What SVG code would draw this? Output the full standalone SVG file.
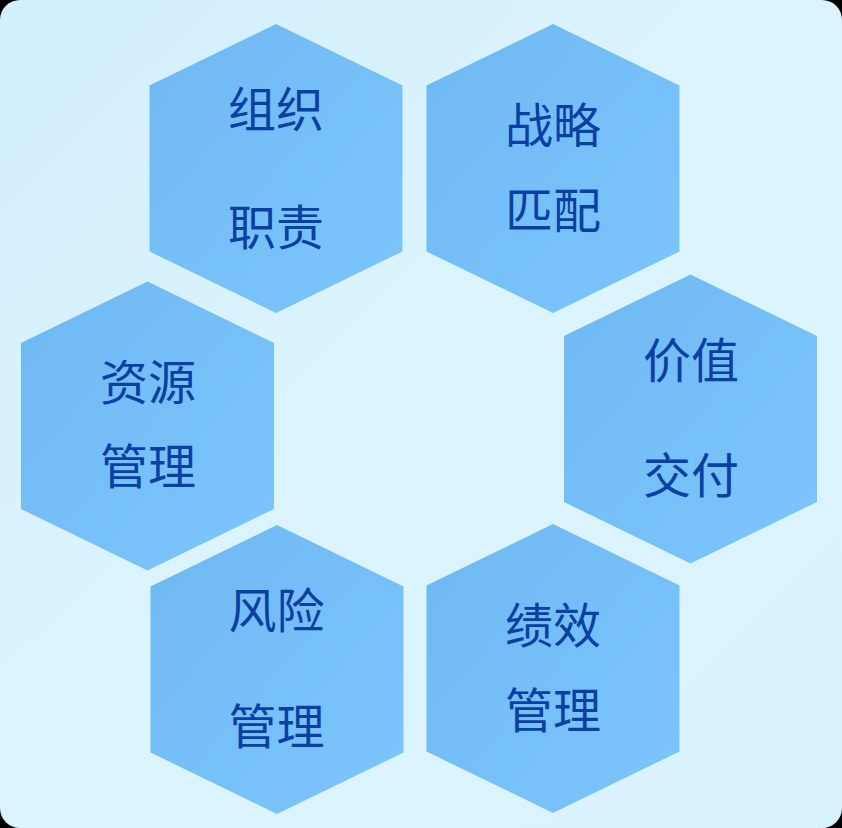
<svg xmlns="http://www.w3.org/2000/svg" xmlns:xlink="http://www.w3.org/1999/xlink" width="842" height="828" viewBox="0 0 842 828">
  <defs>
    <linearGradient id="bg" x1="0" y1="0" x2="1" y2="1">
      <stop offset="0" stop-color="#d3effc"/>
      <stop offset="0.5" stop-color="#dcf4fe"/>
      <stop offset="1" stop-color="#d9f3fe"/>
    </linearGradient>
    <linearGradient id="hexfill" x1="0" y1="0" x2="1" y2="1">
      <stop offset="0" stop-color="#6fb8f3"/>
      <stop offset="1" stop-color="#7cc6fc"/>
    </linearGradient>
    <polygon id="hex" points="0,-144.5 126.5,-83 126.5,83 0,144.5 -126.5,83 -126.5,-83"/>
  </defs>
  <style>
    .hex { fill: url(#hexfill); }
    .lbl { font-family: "Noto Sans CJK SC", "Noto Sans", sans-serif; font-size: 48px; font-weight: 400; fill: #0b40a2; text-anchor: middle; }
  </style>
  <rect x="0" y="0" width="842" height="828" fill="#000"/>
  <rect x="0" y="0" width="842" height="828" rx="20" ry="20" fill="url(#bg)"/>

  <g id="node-zuzhi-zhize">
    <use xlink:href="#hex" href="#hex" class="hex" transform="translate(276,168.5)"/>
    <text class="lbl" x="276" y="127">组织</text>
    <text class="lbl" x="276" y="244.5">职责</text>
  </g>
  <g id="node-zhanlue-pipei">
    <use xlink:href="#hex" href="#hex" class="hex" transform="translate(553,168.5)"/>
    <text class="lbl" x="553" y="143">战略</text>
    <text class="lbl" x="553" y="228">匹配</text>
  </g>
  <g id="node-ziyuan-guanli">
    <use xlink:href="#hex" href="#hex" class="hex" transform="translate(147.5,426)"/>
    <text class="lbl" x="148" y="400">资源</text>
    <text class="lbl" x="148" y="484">管理</text>
  </g>
  <g id="node-jiazhi-jiaofu">
    <use xlink:href="#hex" href="#hex" class="hex" transform="translate(690.5,419)"/>
    <text class="lbl" x="691" y="377.5">价值</text>
    <text class="lbl" x="691" y="493">交付</text>
  </g>
  <g id="node-fengxian-guanli">
    <use xlink:href="#hex" href="#hex" class="hex" transform="translate(277,669.5)"/>
    <text class="lbl" x="276.5" y="628">风险</text>
    <text class="lbl" x="276.5" y="743.5">管理</text>
  </g>
  <g id="node-jixiao-guanli">
    <use xlink:href="#hex" href="#hex" class="hex" transform="translate(553,668.5)"/>
    <text class="lbl" x="553" y="643">绩效</text>
    <text class="lbl" x="553" y="728">管理</text>
  </g>
</svg>
